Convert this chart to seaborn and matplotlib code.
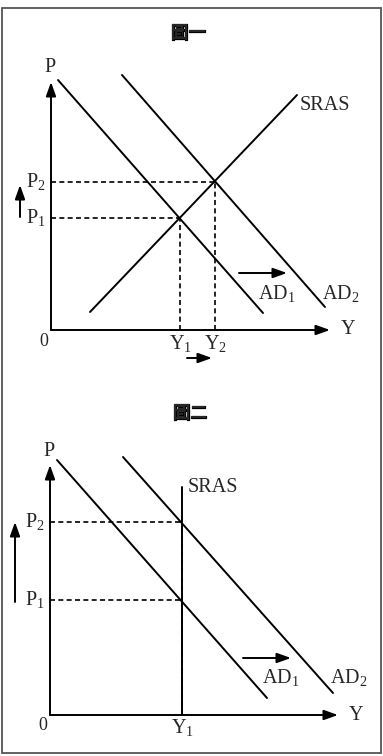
import numpy as np
import pandas as pd
import matplotlib
matplotlib.use("Agg")
import matplotlib.pyplot as plt
import matplotlib.patheffects as pe
import seaborn as sns
from matplotlib.patches import Rectangle

sns.set_theme(style="white")
plt.rcParams['font.family'] = ['Liberation Serif', 'Noto Sans CJK TC', 'DejaVu Sans']
plt.rcParams['mathtext.fontset'] = 'custom'
plt.rcParams['mathtext.rm'] = 'Liberation Serif'
plt.rcParams['mathtext.it'] = 'Liberation Serif'

# ---------------- DATA ----------------
# panel 1 (圖一): upward sloping SRAS
p1_ad1_y = [0.7, 21.2]
p1_ad1_p = [25.0, 1.7]
p1_ad2_y = [7.1, 27.4]
p1_ad2_p = [25.5, 2.3]
p1_sras_y = [3.9, 24.6]
p1_sras_p = [1.8, 23.5]
p1_eq_y = [12.9, 16.4]      # Y1, Y2
p1_eq_p = [11.2, 14.8]      # P1, P2
p1_y_labels = ['Y$_1$', 'Y$_2$']
p1_p_labels = ['P$_1$', 'P$_2$']

# panel 2 (圖二): vertical SRAS
p2_ad1_y = [0.7, 21.7]
p2_ad1_p = [25.5, 1.7]
p2_ad2_y = [7.3, 28.3]
p2_ad2_p = [25.8, 2.2]
p2_sras_y = [13.2, 13.2]
p2_sras_p = [0.0, 22.8]
p2_eq_y = [13.2, 13.2]
p2_eq_p = [11.5, 19.3]
p2_y_labels = ['Y$_1$']
p2_p_labels = ['P$_1$', 'P$_2$']

titles = ['圖一', '圖二']

fig = plt.figure(figsize=(3.83, 7.56), dpi=100)

ax1 = fig.add_axes([0, 0.5, 1, 0.5])
ax1.set_xlim(-5.1, 33.2)
ax1.set_ylim(-4.8, 33.0)
ax2 = fig.add_axes([0, 0, 1, 0.5])
ax2.set_xlim(-5.0, 33.3)
ax2.set_ylim(-4.1, 33.7)

lw = 1.4
fs = 14.5
arrow_kw = dict(arrowstyle='-|>,head_length=0.7,head_width=0.25', color='black', lw=lw,
                shrinkA=0, shrinkB=0)


def draw_panel(ax, ad1_y, ad1_p, ad2_y, ad2_p, sras_y, sras_p, eq_y, eq_p,
               y_labels, p_labels, title, xmax, ymax, sras_lab, p_arrow, y_arrow, title_xy):
    ax.axis('off')
    # axes with arrows
    ax.annotate('', xy=(xmax, 0), xytext=(0, 0), arrowprops=arrow_kw)
    ax.annotate('', xy=(0, ymax), xytext=(0, 0), arrowprops=arrow_kw)
    ax.text(-0.1, ymax + 1.4, 'P', fontsize=fs, ha='center', va='center')
    ax.text(xmax + 1.8, 0, 'Y', fontsize=fs, ha='center', va='center')
    ax.text(-0.7, -1.1, '0', fontsize=fs - 1.5, ha='center', va='center')

    curves = pd.DataFrame({
        'Y': ad1_y + ad2_y + sras_y,
        'P': ad1_p + ad2_p + sras_p,
        'curve': ['AD1'] * 2 + ['AD2'] * 2 + ['SRAS'] * 2,
    })
    sns.lineplot(data=curves, x='Y', y='P', units='curve', estimator=None,
                 color='black', lw=lw, ax=ax, sort=False)

    # dashed guides
    for yv, pv in zip(eq_y, eq_p):
        ax.plot([0, yv], [pv, pv], ls=(0, (3, 2)), color='black', lw=1.2)
        ax.plot([yv, yv], [0, pv], ls=(0, (3, 2)), color='black', lw=1.2)

    for lab, pv in zip(p_labels, eq_p):
        ax.text(-0.5, pv, lab, fontsize=fs, ha='right', va='center')
    for lab, yv in zip(y_labels, sorted(set(eq_y))):
        ax.text(yv, -1.3, lab, fontsize=fs, ha='center', va='center')

    ax.text(ad1_y[1] - 0.5, 3.7, 'AD$_1$', fontsize=fs, ha='left', va='center')
    ax.text(ad2_y[1] - 0.3, 3.7, 'AD$_2$', fontsize=fs, ha='left', va='center')
    ax.text(sras_lab[0], sras_lab[1], 'SRAS', fontsize=fs, ha='left', va='center')

    # shift arrows
    ax.annotate('', xy=(ad1_y[1] + 2.4, 5.7), xytext=(ad1_y[1] - 2.4, 5.7), arrowprops=arrow_kw)
    ax.annotate('', xy=(p_arrow[0], p_arrow[2]), xytext=(p_arrow[0], p_arrow[1]), arrowprops=arrow_kw)
    if y_arrow is not None:
        ax.annotate('', xy=(y_arrow[1], y_arrow[2]), xytext=(y_arrow[0], y_arrow[2]),
                    arrowprops=arrow_kw)

    ax.text(title_xy[0], title_xy[1], title, fontsize=12.5, fontweight='bold',
            family=['Noto Sans CJK TC'], ha='center', va='center',
            path_effects=[pe.withStroke(linewidth=0.9, foreground='black')])


draw_panel(ax1, p1_ad1_y, p1_ad1_p, p1_ad2_y, p1_ad2_p, p1_sras_y, p1_sras_p,
           p1_eq_y, p1_eq_p, p1_y_labels, p1_p_labels, titles[0], 27.9, 24.8,
           (24.9, 22.5), (-3.1, 11.3, 14.5), (13.6, 16.1, -2.8), (13.7, 29.7))
draw_panel(ax2, p2_ad1_y, p2_ad1_p, p2_ad2_y, p2_ad2_p, p2_sras_y, p2_sras_p,
           p2_eq_y, p2_eq_p, p2_y_labels, p2_p_labels, titles[1], 28.8, 25.0,
           (13.8, 22.7), (-3.5, 11.3, 19.3), None, (14.0, 30.2))

# outer frame
fig.patches.append(Rectangle((2 / 383, 3 / 756), 379 / 383, 745 / 756, transform=fig.transFigure,
                             fill=False, edgecolor='#555555', lw=1.3))

fig.savefig('out.png', dpi=100, facecolor='white')
